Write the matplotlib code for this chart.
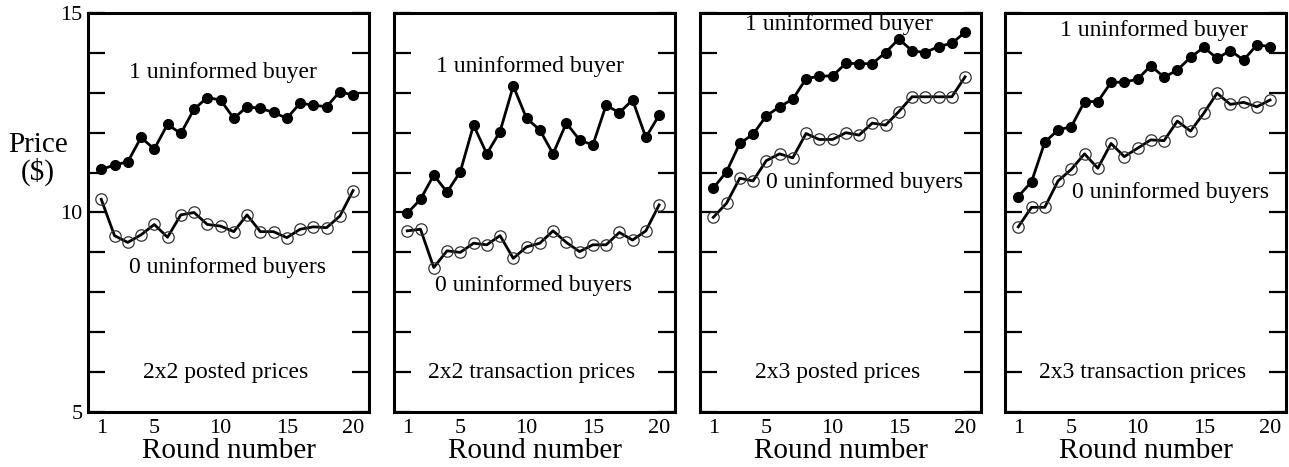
import numpy as np
import matplotlib.pyplot as plt

""" data """
rounds = np.arange(1, 21)

# 2x2 posted prices
p22_one = [11.08, 11.19, 11.27, 11.88, 11.59, 12.21, 11.98, 12.59, 12.88, 12.82,
           12.36, 12.65, 12.61, 12.51, 12.36, 12.74, 12.69, 12.65, 13.03, 12.94]
p22_zero = [10.33, 9.42, 9.25, 9.44, 9.70, 9.38, 9.94, 10.00, 9.70, 9.66,
            9.52, 9.94, 9.52, 9.52, 9.37, 9.58, 9.64, 9.62, 9.91, 10.55]

# 2x2 transaction prices
t22_one = [9.98, 10.33, 10.94, 10.51, 11.02, 12.19, 11.47, 12.03, 13.17, 12.36,
           12.07, 11.47, 12.24, 11.82, 11.69, 12.69, 12.50, 12.82, 11.88, 12.44]
t22_zero = [9.54, 9.58, 8.62, 9.04, 9.00, 9.23, 9.19, 9.42, 8.85, 9.14,
            9.23, 9.54, 9.25, 9.02, 9.19, 9.19, 9.50, 9.31, 9.54, 10.19]

# 2x3 posted prices
p23_one = [10.61, 11.02, 11.73, 11.96, 12.42, 12.65, 12.84, 13.35, 13.42, 13.42,
           13.74, 13.73, 13.73, 14.01, 14.35, 14.05, 14.01, 14.16, 14.24, 14.52]
p23_zero = [9.88, 10.23, 10.86, 10.79, 11.30, 11.47, 11.37, 11.98, 11.83, 11.83,
            12.00, 11.94, 12.24, 12.19, 12.53, 12.90, 12.90, 12.90, 12.90, 13.40]

# 2x3 transaction prices
t23_one = [10.40, 10.77, 11.76, 12.07, 12.15, 12.78, 12.78, 13.26, 13.27, 13.34,
           13.68, 13.39, 13.57, 13.89, 14.14, 13.86, 14.06, 13.82, 14.20, 14.16]
t23_zero = [9.64, 10.13, 10.13, 10.79, 11.08, 11.47, 11.11, 11.73, 11.40, 11.61,
            11.82, 11.80, 12.29, 12.04, 12.49, 12.99, 12.71, 12.76, 12.65, 12.82]

titles = ['2x2 posted prices', '2x2 transaction prices',
          '2x3 posted prices', '2x3 transaction prices']
ones = [p22_one, t22_one, p23_one, t23_one]
zeros = [p22_zero, t22_zero, p23_zero, t23_zero]

""" layout """
W, H = 1289, 467
lefts = [88, 394, 700, 1005]
# label positions in axes fraction: (one label, zero label)
one_pos = [(0.48, 0.852), (0.484, 0.865), (0.496, 0.97), (0.53, 0.957)]
zero_pos = [(0.498, 0.363), (0.495, 0.318), (0.585, 0.574), (0.59, 0.549)]

plt.rcParams['font.family'] = ['Liberation Serif', 'DejaVu Serif']

fig = plt.figure(figsize=(W / 100, H / 100), dpi=100)

for i in range(4):
    ax = fig.add_axes([lefts[i] / W, (H - 412) / H, 281 / W, 399 / H])
    ax.plot(rounds, ones[i], color='black', linewidth=2.0, marker='o',
            markersize=7, markerfacecolor='black', markeredgecolor='black',
            zorder=3)
    ax.plot(rounds, zeros[i], color='black', linewidth=2.0, zorder=2)
    ax.plot(rounds, zeros[i], linestyle='none', marker='o', markersize=8.2,
            markerfacecolor='none', markeredgecolor='#333333',
            markeredgewidth=0.9, zorder=3)

    ax.set_xlim(0, 21.2)
    ax.set_ylim(5, 15)
    ax.set_xticks([1, 5, 10, 15, 20])
    ax.set_yticks(np.arange(5, 16, 1))
    ax.tick_params(axis='x', length=0, labelsize=16, pad=5)
    ax.tick_params(axis='y', direction='in', length=12, width=1.6,
                   left=True, right=True, labelsize=16, pad=4)
    if i == 0:
        ax.set_yticklabels(['5', '', '', '', '', '10', '', '', '', '', '15'])
    else:
        ax.set_yticklabels([])
    for s in ax.spines.values():
        s.set_linewidth(2.2)
    ax.set_xlabel('Round number', fontsize=21, labelpad=0)

    ax.text(one_pos[i][0], one_pos[i][1], '1 uninformed buyer',
            transform=ax.transAxes, ha='center', va='center', fontsize=17)
    ax.text(zero_pos[i][0], zero_pos[i][1], '0 uninformed buyers',
            transform=ax.transAxes, ha='center', va='center', fontsize=17)
    ax.text(0.49, 0.098, titles[i], transform=ax.transAxes,
            ha='center', va='center', fontsize=17)

fig.text(38 / W, 1 - 159 / H, 'Price\n($)', ha='center', va='center',
         fontsize=21, linespacing=0.95)

plt.savefig('out.png', dpi=100)
